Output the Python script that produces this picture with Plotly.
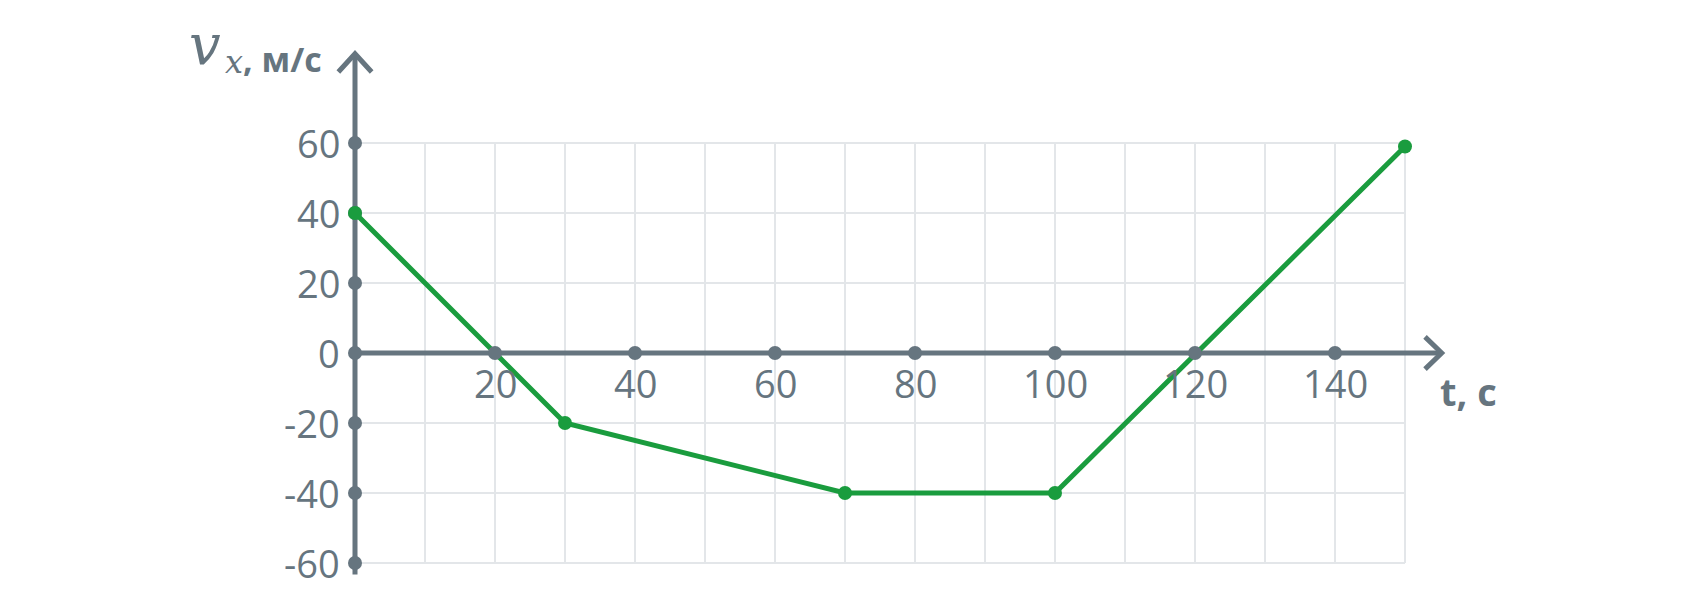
import plotly.graph_objects as go

# ---- data ----
t_vals = [0, 30, 70, 100, 150]
v_vals = [40, -20, -40, -40, 59]
x_ticks = [20, 40, 60, 80, 100, 120, 140]
y_ticks = [-60, -40, -20, 0, 20, 40, 60]
x_tick_labels = ["20", "40", "60", "80", "100", "120", "140"]
y_tick_labels = ["-60", "-40", "-20", "0", "20", "40", "60"]
x_grid = [10, 20, 30, 40, 50, 60, 70, 80, 90, 100, 110, 120, 130, 140, 150]
y_grid = [-60, -40, -20, 20, 40, 60]

GRAY = "#66757f"
GREEN = "#1a9c3e"
GRID = "#e3e6e9"
FONT = "Open Sans"

fig = go.Figure()

shapes = []
for gx in x_grid:
    shapes.append(dict(type="line", xref="x", yref="y", x0=gx, x1=gx, y0=-60, y1=60,
                       line=dict(color=GRID, width=2), layer="below"))
for gy in y_grid:
    shapes.append(dict(type="line", xref="x", yref="y", x0=0, x1=150, y0=gy, y1=gy,
                       line=dict(color=GRID, width=2), layer="below"))

# axes lines
fig.add_trace(go.Scatter(x=[0, 155.24], y=[0, 0], mode="lines",
                         line=dict(color=GRAY, width=5), hoverinfo="skip", showlegend=False))
fig.add_trace(go.Scatter(x=[0, 0], y=[-63.3, 85.5], mode="lines",
                         line=dict(color=GRAY, width=5), hoverinfo="skip", showlegend=False))
# arrow heads
fig.add_trace(go.Scatter(x=[152.86, 155.24, 152.86], y=[4.6, 0, -4.6], mode="lines",
                         line=dict(color=GRAY, width=5), hoverinfo="skip", showlegend=False))
fig.add_trace(go.Scatter(x=[-2.38, 0, 2.38], y=[80.3, 85.5, 80.3], mode="lines",
                         line=dict(color=GRAY, width=5), hoverinfo="skip", showlegend=False))

# gray tick dots under the data (those covered by green markers)
fig.add_trace(go.Scatter(x=[0 for _ in y_ticks], y=y_ticks, mode="markers",
                         marker=dict(color=GRAY, size=14), hoverinfo="skip", showlegend=False,
                         cliponaxis=False))

# data line
fig.add_trace(go.Scatter(x=t_vals, y=v_vals, mode="lines+markers",
                         line=dict(color=GREEN, width=5),
                         marker=dict(color=GREEN, size=14), showlegend=False, cliponaxis=False))

# gray x tick dots on top
fig.add_trace(go.Scatter(x=x_ticks, y=[0 for _ in x_ticks], mode="markers",
                         marker=dict(color=GRAY, size=14), hoverinfo="skip", showlegend=False,
                         cliponaxis=False))

annotations = []
for yv, lab in zip(y_ticks, y_tick_labels):
    annotations.append(dict(x=0, y=yv, xref="x", yref="y", text=lab, showarrow=False,
                            xanchor="right", yanchor="middle", xshift=-13,
                            font=dict(family=FONT, size=38, color=GRAY)))
for xv, lab in zip(x_ticks, x_tick_labels):
    annotations.append(dict(x=xv, y=0, xref="x", yref="y", text=lab, showarrow=False,
                            xanchor="center", yanchor="middle", yshift=-30,
                            font=dict(family=FONT, size=38, color=GRAY)))
# axis titles
annotations.append(dict(x=154.7, y=0, xref="x", yref="y", text="<b>t, с</b>", showarrow=False,
                        xanchor="left", yanchor="middle", yshift=-38,
                        font=dict(family=FONT, size=38, color=GRAY)))
annotations.append(dict(x=-0.0840, y=0.989, xref="paper", yref="paper",
                        text="<i>v</i>",
                        showarrow=False, xanchor="right", yanchor="middle",
                        font=dict(family="DejaVu Serif", size=56, color=GRAY)))
annotations.append(dict(x=-0.0840, y=0.958, xref="paper", yref="paper",
                        text="<i>x</i>",
                        showarrow=False, xanchor="left", yanchor="middle",
                        font=dict(family="DejaVu Serif", size=32, color=GRAY)))
annotations.append(dict(x=-0.0684, y=0.962, xref="paper", yref="paper", text="<b>, м/с</b>",
                        showarrow=False, xanchor="left", yanchor="middle",
                        font=dict(family=FONT, size=34, color=GRAY)))

fig.update_layout(
    width=1687, height=616,
    margin=dict(l=312, r=220, t=30, b=26),
    paper_bgcolor="white", plot_bgcolor="white",
    xaxis=dict(range=[-5, 160], visible=False, fixedrange=True),
    yaxis=dict(range=[-70, 90], visible=False, fixedrange=True),
    shapes=shapes, annotations=annotations,
    showlegend=False,
)

fig.write_html("out.html")
